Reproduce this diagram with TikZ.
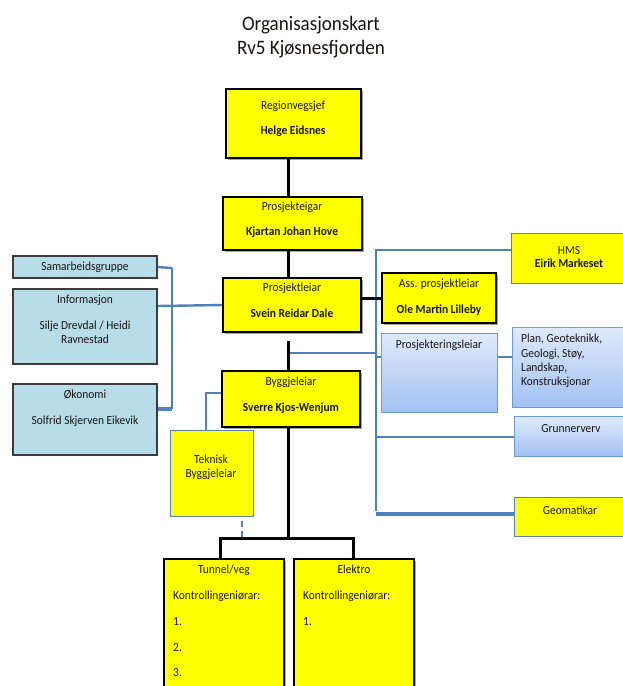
\documentclass[tikz,border=0pt]{standalone}
\usepackage{fontspec}
\setmainfont{Carlito}[FakeStretch=0.93]
\usetikzlibrary{shadows,backgrounds}
\definecolor{yel}{RGB}{255,255,0}
\definecolor{lblue}{RGB}{183,221,232}
\definecolor{oblue}{RGB}{79,129,189}
\definecolor{gtop}{RGB}{224,234,251}
\definecolor{gbot}{RGB}{162,193,243}
\definecolor{gedge}{RGB}{110,155,215}
\definecolor{dgray}{RGB}{60,60,60}
\definecolor{txtc}{RGB}{25,20,20}
\newcommand\mkbox[6]{\node[#6, inner sep=0pt, outer sep=0pt, minimum width={(#4-#2)*1pt}, minimum height={(#5-#3)*1pt}] (#1) at ({(#2+#4)/2},{(#3+#5)/2}) {};}
\tikzset{
  ybox/.style={draw=black, line width=1.2pt, fill=yel, drop shadow={shadow xshift=1.6pt, shadow yshift=-1.6pt, fill=black, opacity=0.35}},
  ylbox/.style={draw=oblue!70!gray, line width=0.9pt, fill=yel},
  lbbox/.style={draw=dgray, line width=1.2pt, fill=lblue, drop shadow={shadow xshift=1.2pt, shadow yshift=-1.2pt, fill=black, opacity=0.25}},
  gbox/.style={draw=gedge, line width=1pt, top color=gtop, bottom color=gbot},
  tx/.style={inner sep=0pt, text=txtc, font=\fontsize{12.3}{14}\selectfont, text height=8pt, text depth=2.5pt},
  txb/.style={tx, font=\fontsize{12.3}{14}\selectfont\bfseries},
  ttl/.style={inner sep=0pt, text=txtc, font=\fontsize{20.5}{24}\selectfont},
  bk/.style={draw=black, line width=3pt},
  bl/.style={draw=oblue, line width=2.4pt},
  blt/.style={draw=oblue, line width=3.2pt},
}
\begin{document}
\begin{tikzpicture}[x=1pt,y=-1pt]
\useasboundingbox (0,0) rectangle (623,686);
\clip (0,0) rectangle (623,686);

% title
\node[ttl] (title1) at (311,25) {Organisasjonskart};
\node[ttl] (title2) at (311,49) {Rv5 Kjøsnesfjorden};

% coordinates
\coordinate (trunk) at (288,0);
\coordinate (stubtop) at (288,341);
\coordinate (bj) at (288,353);
\coordinate (rtop) at (376,250);
\coordinate (rbot) at (376,511);
\coordinate (rpr) at (376,357);
\coordinate (rgr) at (376,437);
\coordinate (rgeo) at (376,514);
\coordinate (lbtop) at (172,268);
\coordinate (lbbot) at (172,409);
\coordinate (hj) at (288,538);
\coordinate (tekc) at (206,393);
\coordinate (dashtop) at (242,521);
\coordinate (dashbot) at (242,538);

% boxes
\mkbox{reg}{226}{89}{361}{158}{ybox}
\mkbox{eig}{223}{197}{362}{250}{ybox}
\mkbox{pl}{223}{278}{361}{332}{ybox}
\mkbox{ass}{382}{273}{496}{323}{ybox}
\mkbox{hms}{511}{233}{630}{283}{ylbox}
\mkbox{pr}{381}{333}{497}{412}{gbox}
\mkbox{plan}{512}{327}{632}{407}{gbox}
\mkbox{grunn}{514}{416}{630}{456}{gbox}
\mkbox{geo}{514}{497}{630}{536}{ylbox}
\mkbox{samb}{13}{256}{157}{278}{lbbox}
\mkbox{info}{13}{289}{157}{364}{lbbox}
\mkbox{oko}{13}{384}{157}{455}{lbbox}
\mkbox{bygg}{222}{371}{360}{427}{ybox}
\mkbox{tek}{170}{430}{253}{516}{ylbox}
\mkbox{tunnel}{164}{559}{284}{700}{ybox}
\mkbox{elektro}{294}{559}{414}{700}{ybox}

% connectors (drawn below boxes)
\begin{scope}[on background layer]
\fill[white] (0,0) rectangle (623,686);
\draw[bl] (samb.east) -- (lbtop);
\draw[bl] (lbtop) -- (lbbot);
\draw[blt] (lbbot) -- (lbbot -| oko.east);
\draw[bl] (info.east |- 0,306) -- (pl.west |- 0,305);
\draw[bl] (rtop -| hms.west) -- (rtop) -- (rbot);
\draw[bl] (bj) -- (bj -| rtop);
\draw[bl] (rpr) -- (rpr -| pr.west);
\draw[bl] (pr.east |- rpr) -- (rpr -| plan.west);
\draw[bl] (rgr) -- (rgr -| grunn.west);
\draw[blt] (rgeo) -- (rgeo -| geo.west);
\draw[bl] (bygg.west |- tekc) -- (tekc) -- (tekc |- tek.north);
\draw[oblue, line width=2.6pt, dash pattern=on 6pt off 4pt] (dashtop) -- (dashbot);
\draw[bk] (reg.south -| trunk) -- (eig.north -| trunk);
\draw[bk] (eig.south -| trunk) -- (pl.north -| trunk);
\draw[bk] ([yshift=7pt]pl.east) -- ([yshift=7pt]pl.east -| ass.west);
\draw[bk] (stubtop) -- (bygg.north -| trunk);
\draw[bk] (bygg.south -| trunk) -- (hj);
\draw[bk] ([xshift=-4pt]tunnel.north) |- (hj) -| ([xshift=-1pt]elektro.north);
\end{scope}

% texts
\node[tx] (t-reg1) at (293,107) {Regionvegsjef};
\node[txb] (t-reg2) at (293,132) {Helge Eidsnes};
\node[tx] (t-eig1) at (292,208) {Prosjekteigar};
\node[txb] (t-eig2) at (292,233) {Kjartan Johan Hove};
\node[tx] (t-pl1) at (292,289) {Prosjektleiar};
\node[txb] (t-pl2) at (292,315) {Svein Reidar Dale};
\node[tx] (t-ass1) at (439,285) {Ass. prosjektleiar};
\node[txb] (t-ass2) at (439,311) {Ole Martin Lilleby};
\node[tx] (t-hms1) at (569,252) {HMS};
\node[txb] (t-hms2) at (569,265) {Eirik Markeset};
\node[tx] (t-pr) at (439,346) {Prosjekteringsleiar};
\node[tx, anchor=west] (t-plan1) at (521,340) {Plan, Geoteknikk,};
\node[tx, anchor=west] (t-plan2) at (521,355) {Geologi, Støy,};
\node[tx, anchor=west] (t-plan3) at (521,369) {Landskap,};
\node[tx, anchor=west] (t-plan4) at (521,383) {Konstruksjonar};
\node[tx] (t-grunn) at (571,430) {Grunnerverv};
\node[tx] (t-geo) at (570,512) {Geomatikar};
\node[tx] (t-samb) at (85,268) {Samarbeidsgruppe};
\node[tx] (t-info1) at (85,301) {Informasjon};
\node[tx] (t-info2) at (85,327) {Silje Drevdal / Heidi};
\node[tx] (t-info3) at (85,341) {Ravnestad};
\node[tx] (t-oko1) at (85,396) {Økonomi};
\node[tx] (t-oko2) at (85,422) {Solfrid Skjerven Eikevik};
\node[tx] (t-bygg1) at (291,383) {Byggjeleiar};
\node[txb] (t-bygg2) at (291,409) {Sverre Kjos-Wenjum};
\node[tx] (t-tek1) at (211,461) {Teknisk};
\node[tx] (t-tek2) at (211,475) {Byggjeleiar};
\node[tx] (t-tun1) at (224,571) {Tunnel/veg};
\node[tx, anchor=west] (t-tun2) at (173,597) {Kontrollingeniørar:};
\node[tx, anchor=west] (t-tun3) at (173,623) {1.};
\node[tx, anchor=west] (t-tun4) at (173,649) {2.};
\node[tx, anchor=west] (t-tun5) at (173,674) {3.};
\node[tx] (t-el1) at (354,571) {Elektro};
\node[tx, anchor=west] (t-el2) at (303,597) {Kontrollingeniørar:};
\node[tx, anchor=west] (t-el3) at (303,623) {1.};
\end{tikzpicture}
\end{document}
